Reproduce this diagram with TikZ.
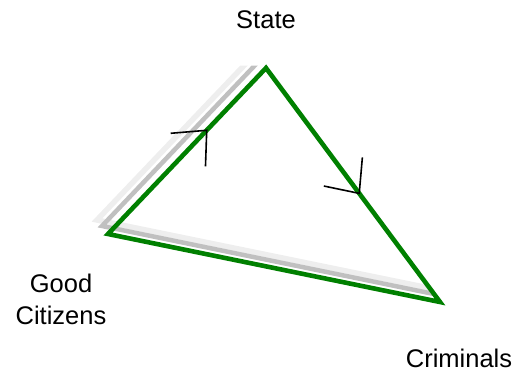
\documentclass[tikz,border=0pt]{standalone}
\usepackage{fontspec}
\setmainfont{Liberation Sans}
\usepackage{tikz}
\usetikzlibrary{arrows.meta,calc,decorations.markings}

\definecolor{edgegreen}{HTML}{008000}
\definecolor{shadowgray}{HTML}{C0C0C0}
\definecolor{shadowlight}{HTML}{EEEEEE}

\begin{document}
\begin{tikzpicture}[x=1pt,y=-1pt,
    edge/.style={draw=edgegreen,line width=4.6pt},
    lbl/.style={font=\fontsize{25.5}{32}\selectfont,align=center},
    flow/.style={postaction={decorate},decoration={markings,
        mark=at position #1 with {\arrow{Straight Barb[length=27pt,width=48pt,line width=1.6pt,color=black]}}}}]
  \useasboundingbox (0,0) rectangle (517,371);
  % corners of the triangle
  \coordinate (state) at (266,68);
  \coordinate (good) at (108,234);
  \coordinate (crim) at (440,302);
  % soft shadow on two sides
  \begin{scope}
    \clip (0,66) -- ($(state)!-0.01!(crim)$) -- ($(state)!1.2!(crim)$) -- (0,371) -- cycle;
    \draw[shadowlight,line width=5.5pt] ($(state)+(-11,-14)$) -- ($(good)+(-11,-14)$) -- ($(crim)+(-11,-14)$);
    \draw[shadowgray,line width=4.5pt] ($(state)+(-6,-8)$) -- ($(good)+(-6,-8)$) -- ($(crim)+(-6,-8)$);
  \end{scope}
  \draw[edge] (good) -- (state) -- (crim) -- cycle;
  \path[flow=0.63] (good) -- (state);
  \path[flow=0.54] (state) -- (crim);
  % labels
  \node[lbl,anchor=base] (stateL) at (266,29) {State};
  \node[lbl,anchor=base] (goodL) at (61,325) {Good\\Citizens};
  \node[lbl,anchor=base] (crimL) at (459,367) {Criminals};
\end{tikzpicture}
\end{document}
